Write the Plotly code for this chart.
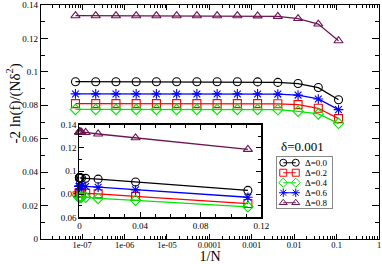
import plotly.graph_objects as go

# 1/N values, N = 3^15 ... 3^2
inv_n = [6.969e-8, 2.091e-7, 6.272e-7, 1.882e-6, 5.645e-6, 1.6935e-5, 5.0805e-5,
         1.5242e-4, 4.5725e-4, 1.3717e-3, 4.115e-3, 1.2346e-2, 3.7037e-2, 0.11111]

d00 = [0.0941, 0.0941, 0.0941, 0.0941, 0.0941, 0.0941, 0.0941, 0.0941, 0.0941, 0.0940, 0.0937, 0.0930, 0.0906, 0.0833]
d02 = [0.0810, 0.0810, 0.0810, 0.0810, 0.0810, 0.0810, 0.0810, 0.0810, 0.0810, 0.0810, 0.0809, 0.0804, 0.0782, 0.0720]
d04 = [0.0775, 0.0775, 0.0775, 0.0775, 0.0775, 0.0775, 0.0775, 0.0775, 0.0775, 0.0775, 0.0774, 0.0764, 0.0748, 0.0692]
d06 = [0.0868, 0.0868, 0.0868, 0.0868, 0.0868, 0.0868, 0.0868, 0.0868, 0.0868, 0.0868, 0.0867, 0.0861, 0.0838, 0.0774]
d08 = [0.1336, 0.1336, 0.1336, 0.1336, 0.1336, 0.1336, 0.1336, 0.1336, 0.1336, 0.1335, 0.1332, 0.1319, 0.1286, 0.1186]

names = ["Δ=0.0", "Δ=0.2", "Δ=0.4", "Δ=0.6", "Δ=0.8"]
series = [d00, d02, d04, d06, d08]
x_ticks = [1e-7, 1e-6, 1e-5, 1e-4, 1e-3, 1e-2, 1e-1, 1]
x_ticktext = ["1e-07", "1e-06", "1e-05", "0.0001", "0.001", "0.01", "0.1", "1"]

colors = ["black", "rgb(255,0,0)", "rgb(0,230,0)", "rgb(0,0,255)", "rgb(110,20,85)"]
symbols = ["circle-open", "square-open", "diamond-open", "asterisk-open", "triangle-up-open"]

FONT = "Liberation Serif"

fig = go.Figure()
# main panel
for nm, ys, c, s in zip(names, series, colors, symbols):
    fig.add_trace(go.Scatter(
        x=inv_n, y=ys, name=nm, mode="lines+markers",
        line=dict(color=c, width=1.3),
        marker=dict(symbol=s, size=8, color=c, line=dict(color=c, width=1.1)),
        xaxis="x", yaxis="y", showlegend=False))
# inset panel (linear 1/N)
for nm, ys, c, s in zip(names, series, colors, symbols):
    fig.add_trace(go.Scatter(
        x=inv_n, y=ys, name=nm, mode="lines+markers",
        line=dict(color=c, width=1.3),
        marker=dict(symbol=s, size=8, color=c, line=dict(color=c, width=1.1)),
        xaxis="x2", yaxis="y2", showlegend=False, cliponaxis=False))
# legend box (drawn in its own small axis, one row per series)
for i, (nm, c, s) in enumerate(zip(names, colors, symbols)):
    fig.add_trace(go.Scatter(
        x=[0.11, 0.34], y=[i, i], mode="lines+markers",
        line=dict(color=c, width=1.2),
        marker=dict(symbol=s, size=7, color=c, line=dict(color=c, width=1.0)),
        xaxis="x3", yaxis="y3", showlegend=False, hoverinfo="skip", cliponaxis=False))

axis_common = dict(showline=True, linecolor="black", linewidth=1.2, mirror="allticks",
                   ticks="inside", tickcolor="black", showgrid=False, zeroline=False,
                   automargin=False)

annotations = [
    dict(text="δ=0.001", x=0.773, y=0.397, xref="paper", yref="paper",
         showarrow=False, font=dict(family=FONT, size=13), xanchor="center", yanchor="middle"),
    dict(text="-2 ln(f)/(Nδ<sup>2</sup>)", x=-0.08, y=0.579, xref="paper", yref="paper",
         textangle=-90, showarrow=False, font=dict(family=FONT, size=15),
         xanchor="center", yanchor="middle"),
]
for i, nm in enumerate(names):
    annotations.append(dict(text=nm, x=0.47, y=i, xref="x3", yref="y3", showarrow=False,
                            xanchor="left", yanchor="middle", font=dict(family=FONT, size=9)))

fig.update_layout(
    width=382, height=264,
    margin=dict(l=41, r=3, t=5, b=25),
    paper_bgcolor="white", plot_bgcolor="white",
    font=dict(family=FONT, color="black"),
    showlegend=False,
    xaxis=dict(type="log", range=[-7.97, 0.0], tickvals=x_ticks, ticktext=x_ticktext,
               ticklen=5, ticklabelstandoff=-2,
               tickfont=dict(family=FONT, size=8.5, color="black"),
               minor=dict(ticks="inside", ticklen=3, dtick="D1", tickcolor="black", showgrid=False),
               title=dict(text="1/N", font=dict(family=FONT, size=14), standoff=0),
               **axis_common),
    yaxis=dict(range=[0, 0.14], dtick=0.02, tickformat="~g", ticklen=7,
               tickfont=dict(family=FONT, size=9, color="black"),
               minor=dict(ticks="inside", ticklen=4, dtick=0.01, tickcolor="black", showgrid=False),
               **axis_common),
    xaxis2=dict(domain=[0.1137, 0.652], anchor="y2", range=[0, 0.12], dtick=0.04, tickformat="~g",
                ticklen=5, tickfont=dict(family=FONT, size=9, color="black"),
                minor=dict(ticks="inside", ticklen=3, dtick=0.01, tickcolor="black", showgrid=False),
                **axis_common),
    yaxis2=dict(domain=[0.092, 0.489], anchor="x2", range=[0.06, 0.14], dtick=0.02, tickformat="~g",
                ticklen=5, tickfont=dict(family=FONT, size=9, color="black"),
                minor=dict(ticks="inside", ticklen=3, dtick=0.01, tickcolor="black", showgrid=False),
                **axis_common),
    xaxis3=dict(domain=[0.699, 0.860], anchor="y3", range=[0, 1], showticklabels=False, ticks="",
                showline=True, mirror=True, linecolor="#888888", linewidth=1,
                showgrid=False, zeroline=False, automargin=False),
    yaxis3=dict(domain=[0.131, 0.349], anchor="x3", range=[4.56, -0.54], showticklabels=False, ticks="",
                showline=True, mirror=True, linecolor="#888888", linewidth=1,
                showgrid=False, zeroline=False, automargin=False),
    annotations=annotations,
)

fig.write_html("out.html", config={"displayModeBar": False, "staticPlot": True},
               post_script="document.body.style.margin='0';document.body.style.overflow='hidden';")
